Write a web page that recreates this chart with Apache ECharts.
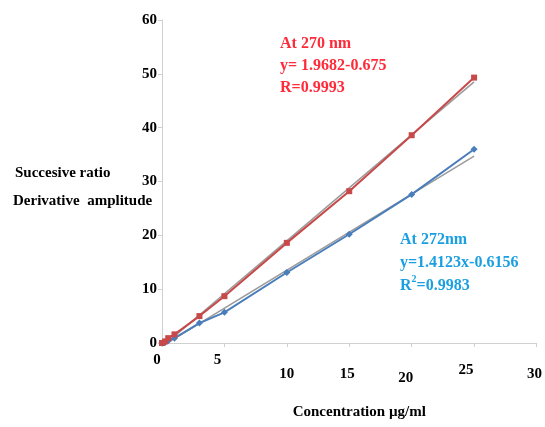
<!DOCTYPE html>
<html>
<head>
<meta charset="utf-8">
<script src="https://cdn.jsdelivr.net/npm/echarts@6/dist/echarts.min.js"></script>
<style>
	html, body { margin: 0; padding: 0; background: #fff; }
	#chart { width: 545px; height: 427px; }
</style>
</head>
<body>
<div id="chart"></div>
<script>
// concentration (µg/ml)
var conc = [0, 0.25, 0.5, 1, 3, 5, 10, 15, 20, 25];
// derivative amplitude at 270 nm and 272 nm
var amp270 = [0, 0.3, 0.9, 1.6, 5.0, 8.7, 18.6, 28.2, 38.6, 49.3];
var amp272 = [0, 0.1, 0.4, 0.9, 3.7, 5.7, 13.1, 20.2, 27.6, 36.0];
// linear trendlines (end points)
var trend270 = [[0, -0.7], [25, 48.5]];
var trend272 = [[0, -0.6], [25, 34.7]];
var xTicks = [0, 5, 10, 15, 20, 25, 30];
var yTicks = [0, 10, 20, 30, 40, 50, 60];

var serif = '"Liberation Serif", "DejaVu Serif", serif';

// tick labels in the picture sit a little unevenly
var xLabelStyle = {
	l0: {padding: [8, 10, 0, 0]},
	l5: {padding: [8, 14, 0, 0]},
	l10: {padding: [22, 0, 0, 0]},
	l15: {padding: [22, 4, 0, 0]},
	l20: {padding: [26, 12, 0, 0]},
	l25: {padding: [18, 16, 0, 0]},
	l30: {padding: [22, 4, 0, 0]}
};
for (var k in xLabelStyle) {
	xLabelStyle[k].fontFamily = serif;
	xLabelStyle[k].fontWeight = 'bold';
	xLabelStyle[k].fontSize = 15;
	xLabelStyle[k].color = '#000';
}

function pairs(xs, ys) {
	return xs.map(function(x, i){ return [x, ys[i]]; });
}

var ec = echarts.init(document.getElementById('chart'));
var option = {
	animation: false,
	grid: {left: 162, right: 5, top: 20, bottom: 84},
	xAxis: {
		type: 'value',
		min: 0,
		max: 30,
		interval: 5,
		axisLine: {show: true, onZero: false, lineStyle: {color: '#d0d0d0', width: 1}},
		axisTick: {show: true, length: 4, lineStyle: {color: '#d0d0d0'}},
		splitLine: {show: false},
		axisLabel: {
			margin: 2,
			formatter: function(v){ return '{l' + v + '|' + v + '}'; },
			rich: xLabelStyle
		},
		name: 'Concentration µg/ml',
		nameLocation: 'middle',
		nameGap: 62,
		nameTextStyle: {fontFamily: serif, fontWeight: 'bold', fontSize: 15, color: '#000', padding: [0, 0, 0, 20]}
	},
	yAxis: {
		type: 'value',
		min: 0,
		max: 60,
		interval: 10,
		axisLine: {show: true, lineStyle: {color: '#d0d0d0', width: 1}},
		axisTick: {show: true, length: 4, lineStyle: {color: '#d0d0d0'}},
		splitLine: {show: false},
		axisLabel: {
			margin: 5,
			fontFamily: serif,
			fontWeight: 'bold',
			fontSize: 15,
			color: '#000'
		}
	},
	graphic: [
		{type: 'text', left: 15, top: 166, style: {text: 'Succesive ratio', font: 'bold 15px ' + serif, fill: '#000'}},
		{type: 'text', left: 13, top: 194, style: {text: 'Derivative  amplitude', font: 'bold 15px ' + serif, fill: '#000'}},
		{type: 'text', left: 280, top: 33, style: {text: 'At 270 nm\ny= 1.9682-0.675\nR=0.9993', font: 'bold 16px ' + serif, fill: '#ff2b3a', lineHeight: 22}},
		{type: 'text', left: 400, top: 228, style: {
			text: 'At 272nm\ny=1.4123x-0.6156\n{b|R}{s|2}{b|=0.9983}',
			font: 'bold 16px ' + serif, fill: '#1a9fe0', lineHeight: 23,
			rich: {
				b: {font: 'bold 16px ' + serif, fill: '#1a9fe0'},
				s: {font: 'bold 10px ' + serif, fill: '#1a9fe0', verticalAlign: 'top', padding: [0, 0, 8, 0]}
			}
		}}
	],
	series: [
		{
			type: 'line',
			data: trend270,
			symbol: 'none',
			lineStyle: {color: '#9a9a9a', width: 1.5},
			z: 1
		},
		{
			type: 'line',
			data: trend272,
			symbol: 'none',
			lineStyle: {color: '#9a9a9a', width: 1.5},
			z: 1
		},
		{
			type: 'line',
			data: pairs(conc, amp270),
			symbol: 'rect',
			symbolSize: 6,
			itemStyle: {color: '#c8494a'},
			lineStyle: {color: '#c8494a', width: 2},
			z: 3
		},
		{
			type: 'line',
			data: pairs(conc, amp272),
			symbol: 'diamond',
			symbolSize: 7,
			itemStyle: {color: '#4a7ebb'},
			lineStyle: {color: '#4a7ebb', width: 2},
			z: 2
		}
	]
};
ec.setOption(option);
</script>
</body>
</html>
